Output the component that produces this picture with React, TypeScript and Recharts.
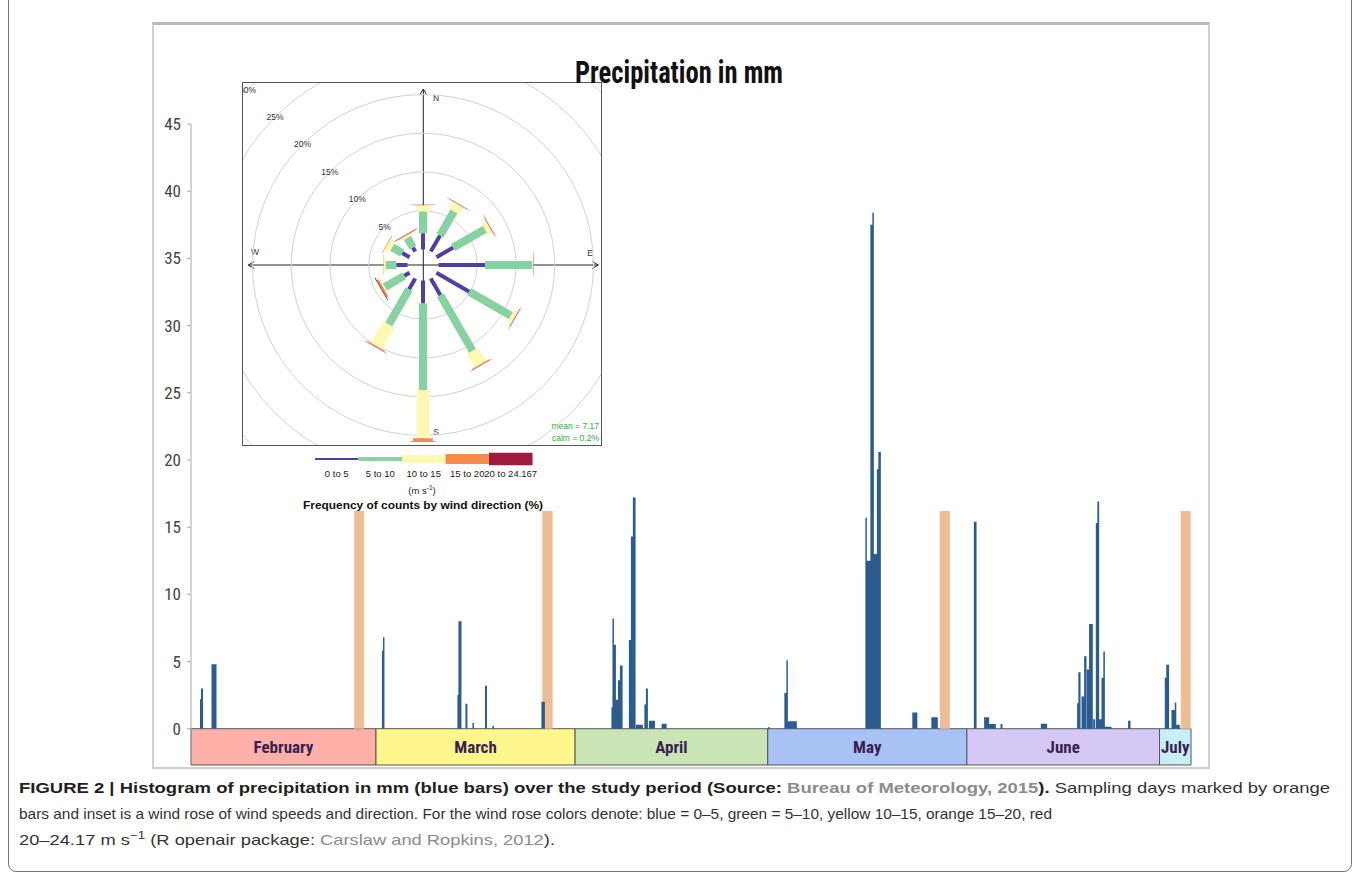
import React from 'react';
import {
  ComposedChart,
  Area,
  XAxis,
  YAxis,
  ReferenceArea,
  RadialBarChart,
  RadialBar,
  PolarAngleAxis,
  PolarRadiusAxis,
  PolarGrid,
} from 'recharts';

// day axis: 0 = 1 February
const X_MIN = -0.8;
const X_MAX = 154.9;
const BAND_LOW = -2.7; // month strip sits under the zero line

const yTicks = [0, 5, 10, 15, 20, 25, 30, 35, 40, 45];

const months = ['February', 'March', 'April', 'May', 'June', 'July'];
const monthStart = [X_MIN, 28, 59, 89, 120, 150];
const monthEnd = [28, 59, 89, 120, 150, X_MAX];
const monthColors = ['#ffb1a9', '#fff78c', '#c9e5b6', '#a8c2f6', '#d6c8f6', '#c8eef8'];

// sampling days (orange markers)
const samplingStart = [24.6, 53.9, 115.8, 153.3];
const samplingEnd = [26.15, 55.5, 117.35, 154.85];
const samplingHeight = 16.2;

// rainfall records: start day, end day, mm
const rainStart = [
  0.6, 0.76, 2.39,
  28.93, 29.09, 40.68, 40.84, 41.93, 43.02, 44.97, 46.13, 53.76,
  64.66, 64.82, 65.05, 65.36, 65.67, 65.98, 67.38, 67.69, 68.0, 68.47, 69.79, 70.03, 70.5, 72.47,
  89.02, 91.59, 91.9, 92.13, 104.2, 104.43, 104.98, 105.29, 105.52, 105.99, 106.22, 111.51, 114.47,
  121.09, 122.69, 123.47, 125.24, 131.52, 137.17, 137.36, 137.85, 138.26, 138.68, 139.03, 139.66,
  140.08, 140.32, 140.6, 140.97, 141.25, 141.49, 145.1,
  150.82, 151.05, 151.86, 152.38, 152.61,
];
const rainEnd = [
  0.76, 1.07, 3.17,
  29.09, 29.32, 40.84, 41.31, 42.24, 43.25, 45.28, 46.37, 54.3,
  64.82, 65.05, 65.36, 65.67, 65.98, 66.4, 67.69, 68.0, 68.42, 69.56, 70.03, 70.34, 71.44, 73.25,
  89.33, 91.9, 92.13, 93.53, 104.43, 104.98, 105.29, 105.52, 105.99, 106.22, 106.61, 112.29, 115.48,
  121.51, 123.47, 124.51, 125.55, 132.5, 137.36, 137.7, 138.26, 138.63, 139.03, 139.61, 139.97,
  140.32, 140.6, 140.97, 141.25, 141.49, 142.52, 145.48,
  151.05, 151.49, 152.38, 152.61, 153.16,
];
const rainMm = [
  2.2, 3.0, 4.8,
  5.8, 6.8, 2.5, 8.0, 1.85, 0.43, 3.2, 0.2, 2.0,
  1.6, 8.2, 6.25, 2.15, 3.6, 4.7, 6.6, 14.3, 17.2, 0.3, 1.8, 3.0, 0.6, 0.37,
  0.1, 2.65, 5.1, 0.55, 15.7, 12.5, 37.5, 38.4, 13.0, 19.3, 20.6, 1.2, 0.85,
  15.4, 0.85, 0.35, 0.35, 0.37, 1.9, 4.2, 2.4, 5.4, 4.4, 7.8, 0.7,
  15.3, 16.9, 0.7, 3.8, 5.75, 0.15, 0.6,
  3.8, 4.76, 1.4, 1.95, 0.3,
];

// wind rose, % of counts per direction and speed bin
const directions = ['N', 'NNE', 'ENE', 'E', 'ESE', 'SSE', 'S', 'SSW', 'WSW', 'W', 'WNW', 'NNW'];
const ws0to5 = [2.1, 2.4, 2.5, 6.0, 4.9, 2.5, 2.95, 1.6, 0.8, 1.45, 1.1, 0.6];
const ws5to10 = [2.8, 3.6, 4.75, 6.1, 6.2, 8.3, 11.2, 5.25, 2.9, 1.35, 1.5, 1.45];
const ws10to15 = [0.8, 1.0, 0.6, 0.15, 0.5, 2.0, 6.2, 3.2, 0.2, 0.25, 0.7, 0.3];
const ws15to20 = [0.05, 0.1, 0.1, 0.05, 0.1, 0.15, 0.4, 0.15, 0.25, 0.05, 0.1, 0.1];
const ws20to24 = [0.03, 0.03, 0.03, 0.03, 0.03, 0.03, 0.05, 0.05, 0.1, 0, 0, 0.05];
const roseTicks = [5, 10, 15, 20, 25, 30];

const speedBins = [
  { key: 'b0', label: '0 to 5', color: '#4f3fa6', width: 4, legendH: 2 },
  { key: 'b1', label: '5 to 10', color: '#86d3a1', width: 8, legendH: 4 },
  { key: 'b2', label: '10 to 15', color: '#fdf9b2', width: 13, legendH: 8 },
  { key: 'b3', label: '15 to 20', color: '#f68b4e', width: 20, legendH: 10 },
  { key: 'b4', label: '20 to 24.167', color: '#9c1b3e', width: 26, legendH: 12.5 },
];

const stepSeries = (starts: number[], ends: number[], vals: number[]) => {
  const pts = [{ t: X_MIN, v: 0 }];
  starts.forEach((s, i) => {
    pts.push({ t: s, v: vals[i] });
    pts.push({ t: ends[i], v: 0 });
  });
  pts.push({ t: X_MAX, v: 0 });
  return pts;
};

const rainSeries = stepSeries(rainStart, rainEnd, rainMm);
const samplingSeries = stepSeries(
  samplingStart,
  samplingEnd,
  samplingStart.map(() => samplingHeight)
);

const roseData = directions.map((dir, i) => ({
  dir,
  b0: ws0to5[i],
  b1: ws5to10[i],
  b2: ws10to15[i],
  b3: ws15to20[i],
  b4: ws20to24[i],
}));

const NARROW = "'Liberation Sans Narrow', 'Roboto Condensed', 'Liberation Sans', sans-serif";
const SANS = "'Liberation Sans', Arial, sans-serif";

// straight paddle along the sector's middle angle
const Paddle = (props: any) => {
  const { cx, cy, innerRadius, outerRadius, startAngle, endAngle, fill, thickness } = props;
  if (!(outerRadius > innerRadius)) return null;
  const a = (-(startAngle + endAngle) / 2) * (Math.PI / 180);
  const ux = Math.cos(a);
  const uy = Math.sin(a);
  const px = (-uy * thickness) / 2;
  const py = (ux * thickness) / 2;
  const pts = [
    [cx + ux * innerRadius + px, cy + uy * innerRadius + py],
    [cx + ux * outerRadius + px, cy + uy * outerRadius + py],
    [cx + ux * outerRadius - px, cy + uy * outerRadius - py],
    [cx + ux * innerRadius - px, cy + uy * innerRadius - py],
  ]
    .map((p) => p.join(','))
    .join(' ');
  return <polygon points={pts} fill={fill} />;
};

// horizontal percentage labels along the NW radius
const RingLabel = (props: any) => {
  const { x, y, payload } = props;
  return (
    <text x={x} y={y + 3} textAnchor="middle" fontFamily={SANS} fontSize={8.5} fill="#333">
      {`${payload.value}%`}
    </text>
  );
};

const WindRose: React.FC = () => {
  const c = 180.3; // centre inside the inset box
  const cy = 182;
  const arm = 175;
  return (
    <div
      style={{
        position: 'absolute',
        left: 242,
        top: 82,
        width: 358,
        height: 362,
        border: '1px solid #555',
        background: '#fff',
        overflow: 'hidden',
      }}
    >
      <svg width={358} height={362} style={{ position: 'absolute', left: 0, top: 0 }}>
        <g stroke="#222" strokeWidth={1} fill="none">
          <line x1={c} y1={cy - arm - 1} x2={c} y2={cy + arm + 1} />
          <line x1={c - arm} y1={cy} x2={c + arm} y2={cy} />
          <polyline points={`${c - 3.5},${cy - arm + 5} ${c},${cy - arm - 1} ${c + 3.5},${cy - arm + 5}`} />
          <polyline points={`${c - arm + 6},${cy - 3.5} ${c - arm},${cy} ${c - arm + 6},${cy + 3.5}`} />
          <polyline points={`${c + arm - 6},${cy - 3.5} ${c + arm},${cy} ${c + arm - 6},${cy + 3.5}`} />
        </g>
        <g fontFamily={SANS} fontSize={8.5} fill="#333">
          <text x={193} y={18} textAnchor="middle">N</text>
          <text x={347} y={173} textAnchor="middle">E</text>
          <text x={12} y={172} textAnchor="middle">W</text>
          <text x={193} y={352} textAnchor="middle">S</text>
        </g>
        <g fontFamily={SANS} fontSize={8.5} fill="#3aa63f" textAnchor="end">
          <text x={356} y={346}>mean = 7.17</text>
          <text x={356} y={358}>calm = 0.2%</text>
        </g>
      </svg>
      <div style={{ position: 'absolute', left: c - 300, top: cy - 300 }}>
        <RadialBarChart
          width={600}
          height={600}
          cx={300}
          cy={300}
          innerRadius={15.5}
          outerRadius={248}
          startAngle={75}
          endAngle={-285}
          layout="centric"
          data={roseData}
          margin={{ top: 0, right: 0, bottom: 0, left: 0 }}
        >
          <PolarGrid gridType="circle" radialLines={false} stroke="#d2d2d2" />
          <PolarAngleAxis type="category" dataKey="dir" tick={false} axisLine={false} tickLine={false} />
          <PolarRadiusAxis
            type="number"
            domain={[0, 30]}
            ticks={roseTicks}
            angle={135}
            orientation="middle"
            axisLine={false}
            tickLine={false}
            tick={<RingLabel />}
          />
          {speedBins.map((b) => (
            <RadialBar
              key={b.key}
              dataKey={b.key}
              stackId="ws"
              fill={b.color}
              isAnimationActive={false}
              shape={(p: any) => <Paddle {...p} fill={b.color} thickness={b.width} />}
            />
          ))}
        </RadialBarChart>
      </div>
    </div>
  );
};

const App: React.FC = () => {
  return (
    <div style={{ position: 'fixed', left: 0, top: 0, width: 1360, height: 882, background: '#fff' }}>
      {/* outer figure frame */}
      <div
        style={{
          position: 'absolute',
          left: 8,
          top: -20,
          width: 1342,
          height: 890,
          border: '1px solid #777',
          borderRadius: 8,
        }}
      />
      {/* chart panel */}
      <div
        style={{
          position: 'absolute',
          left: 152,
          top: 22,
          width: 1054,
          height: 742,
          borderTop: '3px solid #b8b8b8',
          borderLeft: '2px solid #d0d0d0',
          borderRight: '2px solid #cfcfcf',
          borderBottom: '2px solid #cfcfcf',
        }}
      />

      <div style={{ position: 'absolute', left: 100, top: 100 }}>
        <ComposedChart width={1100} height={670} margin={{ top: 24, right: 9, bottom: 5, left: 0 }}>
          <XAxis type="number" dataKey="t" domain={[X_MIN, X_MAX]} hide allowDataOverflow />
          <YAxis
            type="number"
            domain={[BAND_LOW, 45]}
            ticks={yTicks}
            width={91}
            allowDataOverflow
            stroke="#aaa"
            tickSize={4}
            tickMargin={6}
            tick={{ fill: '#444', fontSize: 17, fontFamily: NARROW }}
          />
          {months.map((m, i) => (
            <ReferenceArea
              key={m}
              x1={monthStart[i]}
              x2={monthEnd[i]}
              y1={BAND_LOW}
              y2={0}
              fill={monthColors[i]}
              fillOpacity={1}
              stroke="#555"
              strokeWidth={1}
              label={{
                value: m,
                position: 'center',
                fill: '#3b1f50',
                fontSize: 17,
                fontWeight: 700,
                fontFamily: NARROW,
              }}
            />
          ))}
          <Area
            data={samplingSeries}
            dataKey="v"
            type="stepAfter"
            baseValue={0}
            fill="#eebd94"
            fillOpacity={1}
            stroke="none"
            dot={false}
            activeDot={false}
            isAnimationActive={false}
          />
          <Area
            data={rainSeries}
            dataKey="v"
            type="stepAfter"
            baseValue={0}
            fill="#2b5c8f"
            fillOpacity={1}
            stroke="none"
            dot={false}
            activeDot={false}
            isAnimationActive={false}
          />
        </ComposedChart>
      </div>

      <WindRose />

      <svg
        width={1360}
        height={882}
        style={{ position: 'absolute', left: 0, top: 0, pointerEvents: 'none' }}
      >
        <text
          x={679}
          y={83}
          textAnchor="middle"
          fontFamily={NARROW}
          fontWeight={700}
          fontSize={31}
          fill="#111"
          textLength={208}
          lengthAdjust="spacingAndGlyphs"
        >
          Precipitation in mm
        </text>

        {/* wind speed legend */}
        {speedBins.map((b, i) => {
          const x0 = 315 + i * 43.5;
          return (
            <g key={b.key}>
              <rect x={x0} y={459 - b.legendH / 2} width={43.5} height={b.legendH} fill={b.color} />
              <text
                x={x0 + 21.75}
                y={477}
                textAnchor="middle"
                fontFamily={SANS}
                fontSize={9.5}
                fill="#222"
              >
                {b.label}
              </text>
            </g>
          );
        })}
        <text x={422} y={494} textAnchor="middle" fontFamily={SANS} fontSize={9.5} fill="#222">
          (m s<tspan dy={-4} fontSize={6.5}>-1</tspan>
          <tspan dy={4}>)</tspan>
        </text>
        <text
          x={423}
          y={509}
          textAnchor="middle"
          fontFamily={SANS}
          fontWeight={700}
          fontSize={11}
          fill="#111"
          textLength={240}
          lengthAdjust="spacingAndGlyphs"
        >
          Frequency of counts by wind direction (%)
        </text>

        {/* caption */}
        <g fontFamily={SANS} fontSize={15} fill="#333">
          <text x={19} y={793} textLength={1311} lengthAdjust="spacingAndGlyphs">
            <tspan fontWeight={700} fill="#231f20">
              FIGURE 2 | Histogram of precipitation in mm (blue bars) over the study period (Source:{' '}
            </tspan>
            <tspan fontWeight={700} fill="#8b8b8b">Bureau of Meteorology, 2015</tspan>
            <tspan fontWeight={700} fill="#231f20">).</tspan>
            <tspan> Sampling days marked by orange</tspan>
          </text>
          <text x={19} y={819} textLength={1033} lengthAdjust="spacingAndGlyphs">
            bars and inset is a wind rose of wind speeds and direction. For the wind rose colors denote: blue = 0–5, green = 5–10, yellow 10–15, orange 15–20, red
          </text>
          <text x={19} y={845} textLength={536} lengthAdjust="spacingAndGlyphs">
            20–24.17 m s<tspan dy={-6} fontSize={11}>−1</tspan>
            <tspan dy={6}> (R openair package: </tspan>
            <tspan fill="#8b8b8b">Carslaw and Ropkins, 2012</tspan>
            <tspan>).</tspan>
          </text>
        </g>
      </svg>
    </div>
  );
};

export default App;
